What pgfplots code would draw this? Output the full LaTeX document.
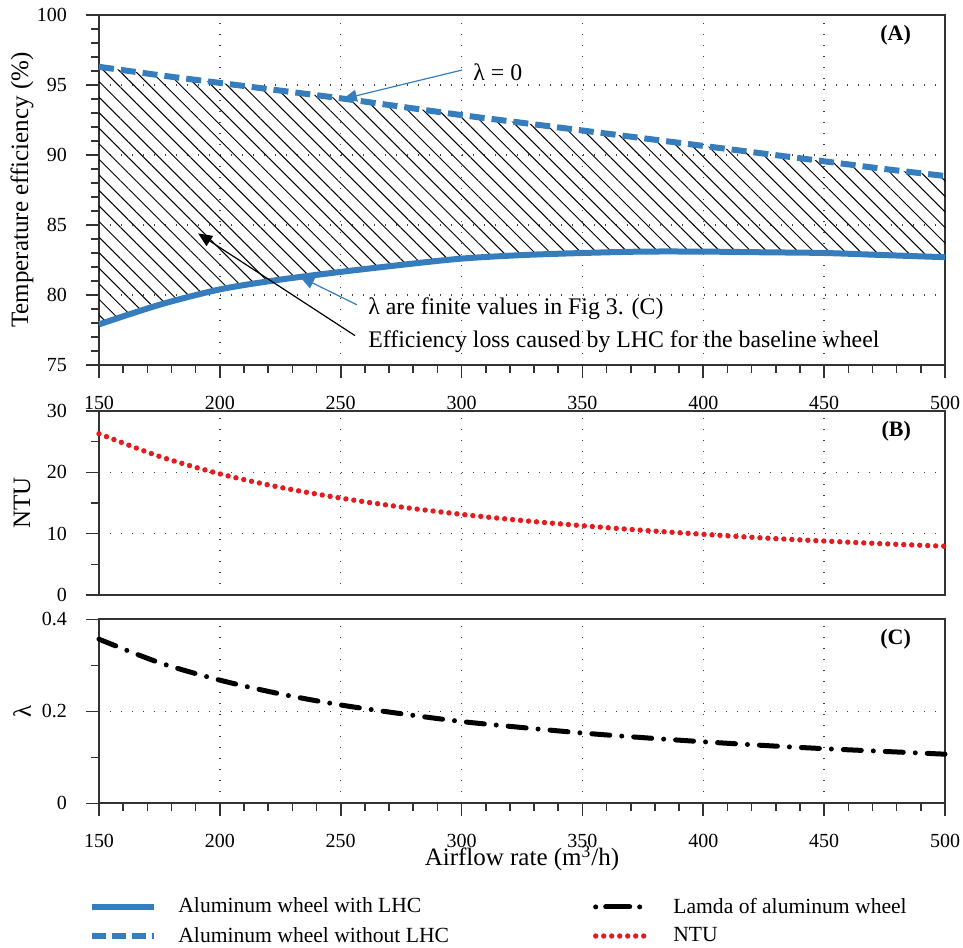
\documentclass[border=0pt]{standalone}
\usepackage{fontspec}
\setmainfont{Liberation Serif}
\usepackage{pgfplots}
\pgfplotsset{compat=1.18}
\usetikzlibrary{patterns.meta,arrows.meta}

\definecolor{wblue}{RGB}{54,125,190}
\definecolor{nred}{RGB}{228,28,32}

\tikzset{
  tag/.style={font=\fontsize{11}{13}\selectfont\bfseries, anchor=east},
  note/.style={anchor=west, font=\fontsize{11.9}{14}\selectfont},
  tk/.style={black!80, line width=0.8pt},
}

\pgfplotsset{
  panel/.style={
    scale only axis, width=423pt, clip=false,
    xmin=150, xmax=500, xtick={150,200,...,500},
    minor x tick num=4,
    xtick pos=left, ytick pos=left,
    tick align=outside,
    major tick length=6.5pt, minor tick length=3.8pt,
    major tick style={black!80, line width=0.8pt},
    minor tick style={black!80, line width=0.8pt},
    axis line style={black!80, line width=1pt},
    xmajorgrids, ymajorgrids,
    major grid style={black!75, line width=0.7pt, dash pattern=on 0.7pt off 4.8pt},
    tick label style={font=\fontsize{10}{12}\selectfont},
    xticklabel style={yshift=-5.5pt},
    yticklabel style={xshift=-6pt},
    label style={font=\fontsize{12.5}{14}\selectfont},
    ylabel style={at={(axis description cs:-0.091,0.5)}, anchor=center},
    /pgf/number format/assume math mode=true,
  },
  short/.style={legend image code/.code={\draw[##1] (0pt,0pt) -- (27pt,0pt);}},
}

\begin{document}
\begin{tikzpicture}

% (A) temperature efficiency
\begin{axis}[panel, at={(0,0)}, anchor=north west, height=175pt,
  ymin=75, ymax=100, ytick={75,80,...,100}, minor y tick num=4,
  ylabel={Temperature efficiency (\%)}]
% hatched band between the two curves
\addplot[draw=none, pattern={Lines[angle=-45,distance=5.5pt,line width=0.5pt]}, forget plot] coordinates {
  (150,96.3) (175,95.7) (200,95.15) (225,94.6) (250,94.05) (275,93.45)
  (300,92.85) (325,92.3) (350,91.75) (375,91.2) (400,90.65) (425,90.1)
  (450,89.55) (475,89.0) (500,88.5)
  (500,82.7) (475,82.85) (450,83.0) (425,83.05) (400,83.1) (375,83.1)
  (350,83.0) (325,82.85) (300,82.6) (275,82.15) (250,81.65) (225,81.1)
  (200,80.4) (175,79.3) (150,77.9)};
\addplot[wblue, line width=3pt, smooth] coordinates {
  (150,77.9) (175,79.3) (200,80.4) (225,81.1) (250,81.65) (275,82.15)
  (300,82.6) (325,82.85) (350,83.0) (375,83.1) (400,83.1) (425,83.05)
  (450,83.0) (475,82.85) (500,82.7)};
\addplot[wblue, line width=3pt, smooth, dash pattern=on 7.5pt off 3.5pt] coordinates {
  (150,96.3) (175,95.7) (200,95.15) (225,94.6) (250,94.05) (275,93.45)
  (300,92.85) (325,92.3) (350,91.75) (375,91.2) (400,90.65) (425,90.1)
  (450,89.55) (475,89.0) (500,88.5)};
% outward tick marks
\pgfplotsinvokeforeach{160,170,180,190,210,220,230,240,260,270,280,290,310,320,330,340,360,370,380,390,410,420,430,440,460,470,480,490}{
  \draw[tk] (axis cs:#1,75) -- ++(0pt,-3.8pt);}
\pgfplotsinvokeforeach{150,200,250,300,350,400,450,500}{
  \draw[tk] (axis cs:#1,75) -- ++(0pt,-6.5pt);}
\pgfplotsinvokeforeach{76,77,78,79,81,82,83,84,86,87,88,89,91,92,93,94,96,97,98,99}{
  \draw[tk] (axis cs:150,#1) -- ++(-3.8pt,0pt);}
\pgfplotsinvokeforeach{75,80,85,90,95,100}{
  \draw[tk] (axis cs:150,#1) -- ++(-6.5pt,0pt);}
\draw[wblue, line width=0.6pt, -{Triangle[length=7pt,width=6pt]}]
  (axis cs:300.2,96.07) -- (axis cs:250.9,94.0);
\node[note] at (axis cs:302,95.93) {λ = 0};
\draw[wblue, line width=0.6pt, -{Triangle[length=7pt,width=6pt]}]
  (axis cs:256.7,79.3) -- (axis cs:233.2,81.3);
\node[note] at (axis cs:258.5,79.0) {λ are finite values in Fig 3. (C)};
\draw[black, line width=0.6pt, -{Triangle[length=7pt,width=6pt]}]
  (axis cs:255.9,77.1) -- (axis cs:191,84.4);
\node[note] at (axis cs:258.5,76.65) {Efficiency loss caused by LHC for the baseline wheel};
\node[tag] at (rel axis cs:0.968,0.943) {(A)};
\end{axis}

% (B) NTU
\begin{axis}[panel, at={(0,-198pt)}, anchor=north west, height=92pt,
  ymin=0, ymax=30, ytick={0,10,20,30}, minor y tick num=1,
  xticklabels={}, minor x tick num=0, major x tick style={draw=none},
  ylabel={NTU}]
\addplot[nred, line width=2.7pt, line cap=round, dash pattern=on 0pt off 4pt, smooth] coordinates {
  (150,26.3) (175,22.6) (200,19.75) (225,17.55) (250,15.8) (275,14.35)
  (300,13.15) (325,12.15) (350,11.3) (375,10.55) (400,9.9) (425,9.3)
  (450,8.8) (475,8.35) (500,7.95)};
\pgfplotsinvokeforeach{5,15,25}{
  \draw[tk] (axis cs:150,#1) -- ++(-3.8pt,0pt);}
\pgfplotsinvokeforeach{0,10,20,30}{
  \draw[tk] (axis cs:150,#1) -- ++(-6.5pt,0pt);}
\node[tag] at (rel axis cs:0.968,0.891) {(B)};
\end{axis}

% (C) lambda
\begin{axis}[panel, at={(0,-302.2pt)}, anchor=north west, height=92pt,
  ymin=0, ymax=0.4, ytick={0,0.2,0.4}, minor y tick num=1,
  yticklabel style={/pgf/number format/fixed},
  ylabel={λ}, xlabel={Airflow rate (m\textsuperscript{3}/h)},
  xlabel style={at={(axis description cs:0.5,0)}, anchor=center, yshift=-27.5pt},
  legend columns=2, legend cell align=left,
  legend image code/.code={\draw[#1] (0pt,0pt) -- (31pt,0pt);},
  legend style={draw=none, fill=none, at={(axis description cs:0,0)}, anchor=north west,
    xshift=-8pt, yshift=-43pt, font=\fontsize{10.8}{12}\selectfont,
    row sep=1.5pt,
    /tikz/every odd column/.append style={column sep=8.5pt},
    /tikz/every even column/.append style={column sep=70pt}}]
\addlegendimage{wblue, line width=3pt}
\addlegendentry{Aluminum wheel with LHC}
\addlegendimage{short, black, line width=2.5pt, line cap=round, dash pattern=on 0pt off 5pt on 12pt off 5pt on 0pt off 20pt}
\addlegendentry{Lamda of aluminum wheel}
\addlegendimage{wblue, line width=3pt, dash pattern=on 7pt off 3pt}
\addlegendentry{Aluminum wheel without LHC}
\addlegendimage{short, nred, line width=2.7pt, line cap=round, dash pattern=on 0pt off 4pt}
\addlegendentry{NTU}
\addplot[black, line width=2.5pt, line cap=round, dash pattern=on 9pt off 6pt on 0pt off 6pt, smooth, forget plot] coordinates {
  (150,0.357) (175,0.306) (200,0.268) (225,0.238) (250,0.214) (275,0.195)
  (300,0.178) (325,0.165) (350,0.153) (375,0.143) (400,0.134) (425,0.126)
  (450,0.119) (475,0.113) (500,0.107)};
\pgfplotsinvokeforeach{160,170,180,190,210,220,230,240,260,270,280,290,310,320,330,340,360,370,380,390,410,420,430,440,460,470,480,490}{
  \draw[tk] (axis cs:#1,0) -- ++(0pt,-3.8pt);}
\pgfplotsinvokeforeach{150,200,250,300,350,400,450,500}{
  \draw[tk] (axis cs:#1,0) -- ++(0pt,-6.5pt);}
\pgfplotsinvokeforeach{0.1,0.3}{
  \draw[tk] (axis cs:150,#1) -- ++(-3.8pt,0pt);}
\pgfplotsinvokeforeach{0,0.2,0.4}{
  \draw[tk] (axis cs:150,#1) -- ++(-6.5pt,0pt);}
\node[tag] at (rel axis cs:0.968,0.891) {(C)};
\end{axis}

\pgfresetboundingbox
\path[use as bounding box] (-49.5pt,7.5pt) rectangle (432pt,-466pt);
\end{tikzpicture}
\end{document}
